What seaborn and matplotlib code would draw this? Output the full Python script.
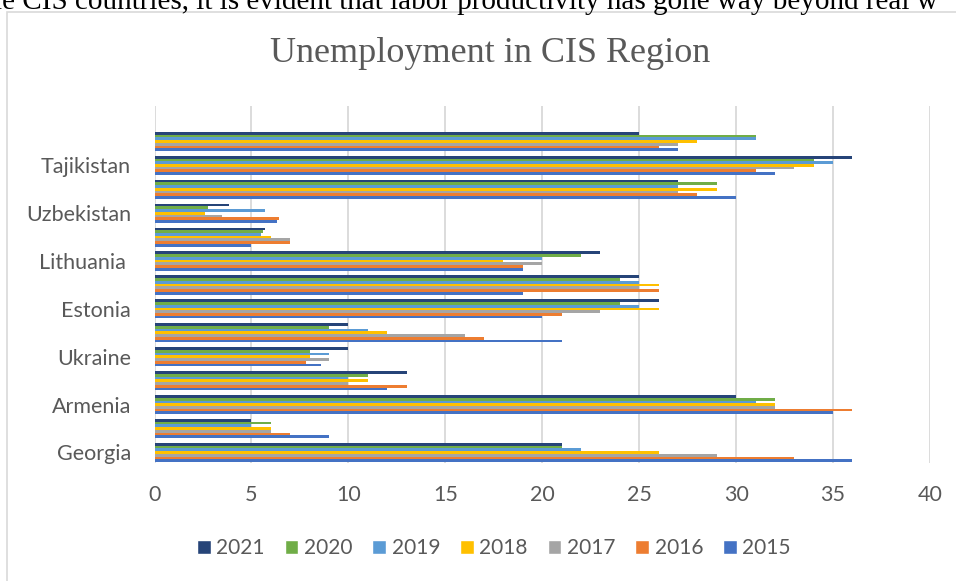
import pandas as pd
import seaborn as sns
import matplotlib.pyplot as plt
from matplotlib.patches import Patch, Rectangle

# countries listed top -> bottom; only every other label is printed (as in the source)
countries = ["Russia", "Tajikistan", "Kazakhstan", "Uzbekistan", "Kyrgyzstan",
             "Lithuania", "Latvia", "Estonia", "Moldova", "Ukraine",
             "Belarus", "Armenia", "Azerbaijan", "Georgia"]
shown_labels = ["", "Tajikistan", "", "Uzbekistan", "", "Lithuania ", "",
                "Estonia", "", "Ukraine", "", "Armenia", "", "Georgia"]

years = ["2021", "2020", "2019", "2018", "2017", "2016", "2015"]
u2021 = [25, 36, 27, 3.85, 5.7, 23, 25, 26, 10, 10, 13, 30, 5, 21]
u2020 = [31, 34, 29, 2.75, 5.6, 22, 24, 24, 9, 8, 11, 32, 6, 21]
u2019 = [31, 35, 27, 5.7, 5.5, 20, 25, 25, 11, 9, 10, 31, 5, 22]
u2018 = [28, 34, 29, 2.6, 6, 18, 26, 26, 12, 8, 11, 32, 6, 26]
u2017 = [27, 33, 27, 3.5, 7, 20, 25, 23, 16, 9, 10, 32, 6, 29]
u2016 = [26, 31, 28, 6.4, 7, 19, 26, 21, 17, 7.8, 13, 36, 7, 33]
u2015 = [27, 32, 30, 6.3, 5, 19, 19, 20, 21, 8.6, 12, 35, 9, 36]

colors = ["#264478", "#70AD47", "#5B9BD5", "#FFC000", "#A5A5A5", "#ED7D31", "#4472C4"]

series = [u2021, u2020, u2019, u2018, u2017, u2016, u2015]
rows = []
for yr, vals in zip(years, series):
    for c, v in zip(countries, vals):
        rows.append({"country": c, "year": yr, "value": v})
df = pd.DataFrame(rows)

sns.set_style("white")
plt.rcParams["font.family"] = ["Lato", "DejaVu Sans"]
grey = "#595959"

fig = plt.figure(figsize=(9.56, 5.81), dpi=100)
ax = fig.add_axes([154.5 / 956, 1 - 463 / 581, (930 - 154.5) / 956, (463 - 106) / 581])

sns.barplot(data=df, y="country", x="value", hue="year", order=countries,
            hue_order=years, palette=colors, orient="h", width=0.8,
            legend=False, ax=ax, saturation=1, linewidth=0)

ax.set_xlim(0, 40)
ax.set_xticks(range(0, 41, 5))
ax.set_ylim(13.44, -1.48)
ax.set_yticks(range(len(countries)))
ax.set_yticklabels(shown_labels)
ax.set_xlabel("")
ax.set_ylabel("")
ax.grid(axis="x", color="#D9D9D9", linewidth=1.3)
ax.set_axisbelow(True)
for s in ax.spines.values():
    s.set_visible(False)
ax.tick_params(axis="x", length=0, pad=16, labelsize=15.5, labelcolor=grey)
ax.tick_params(axis="y", length=0, pad=17, labelsize=15.5, labelcolor=grey)

fig.text(490 / 956, 1 - 62 / 581, "Unemployment in CIS Region", ha="center", va="baseline",
         fontsize=26, color=grey, family=["Liberation Serif", "DejaVu Serif"])

# clipped line of document text above the chart
fig.text(-6 / 956, 1 - 9 / 581,
         "le CIS countries, it is evident that labor productivity has gone way beyond real w",
         ha="left", va="baseline", fontsize=21, color="black",
         family=["Liberation Serif", "DejaVu Serif"])

# chart frame
fig.patches.append(Rectangle((7 / 956, -0.1), 1.2, 1 - 12 / 581 + 0.1, transform=fig.transFigure,
                             fill=False, edgecolor="#D9D9D9", linewidth=1.2))

handles = [Patch(facecolor=c, label=y) for c, y in zip(colors, years)]
fig.legend(handles=handles, loc="center", bbox_to_anchor=(494 / 956, 1 - 548 / 581), ncol=7,
           frameon=False, handlelength=0.65, handleheight=0.65, handletextpad=0.28,
           columnspacing=0.95, fontsize=15, labelcolor=grey)

fig.savefig("out.png", dpi=100)
